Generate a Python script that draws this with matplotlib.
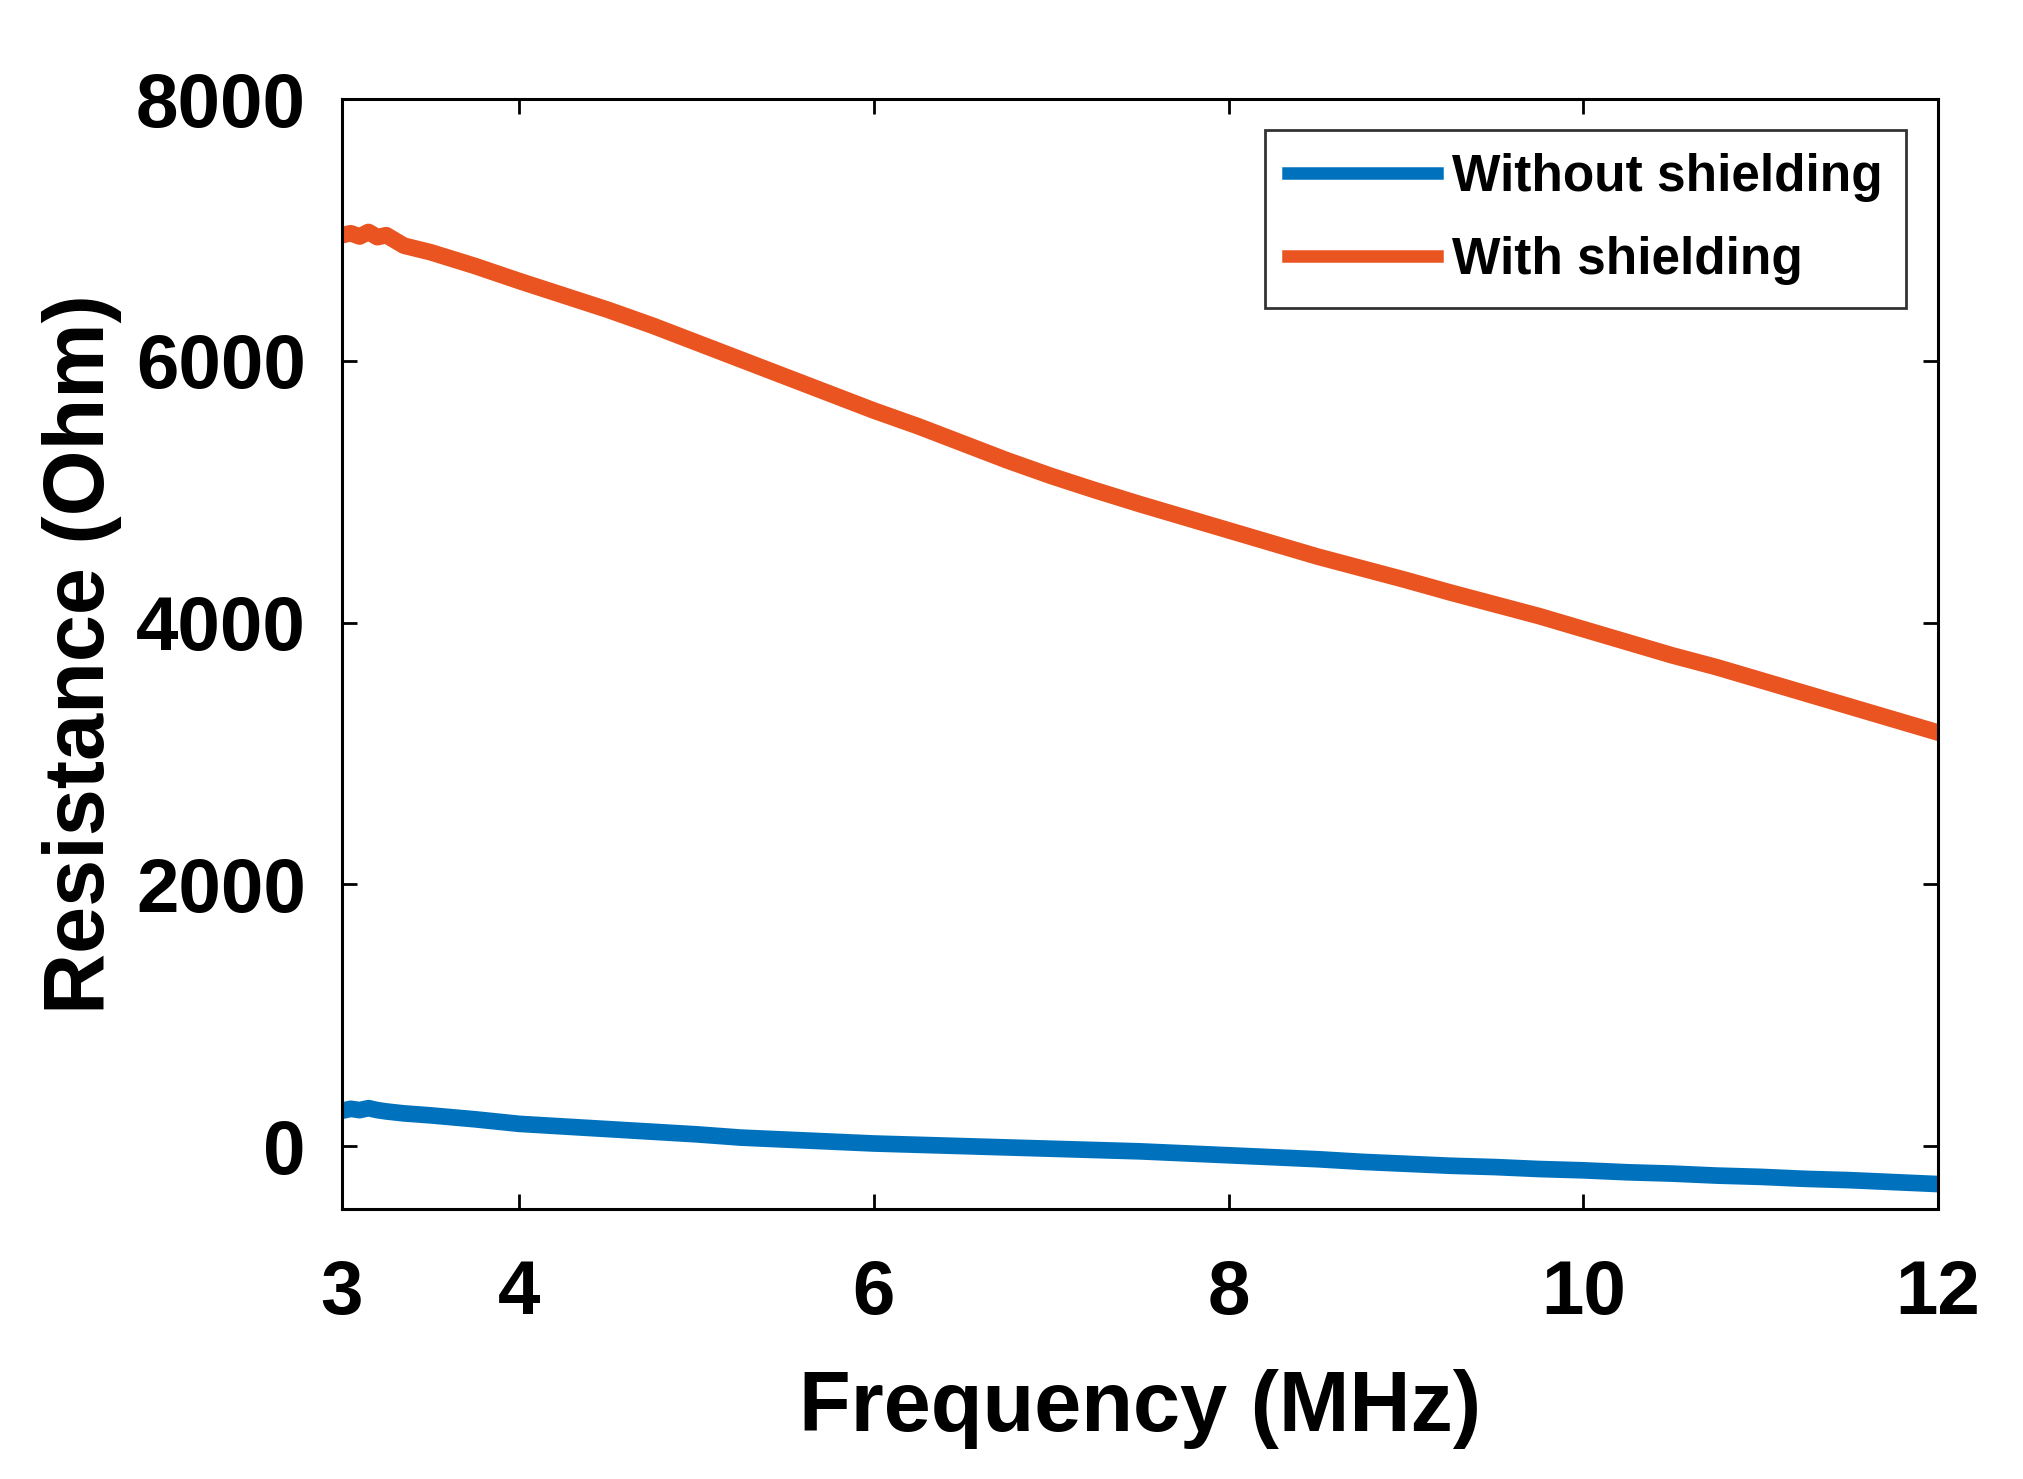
import matplotlib
matplotlib.use("Agg")
import matplotlib.pyplot as plt

# frequency points (MHz)
FREQ = [3.00, 3.05, 3.10, 3.15, 3.20, 3.25, 3.35, 3.50, 3.75, 4.00, 4.25, 4.50, 4.75,
        5.00, 5.25, 5.50, 5.75, 6.00, 6.25, 6.50, 6.75, 7.00, 7.25, 7.50, 7.75,
        8.00, 8.25, 8.50, 8.75, 9.00, 9.25, 9.50, 9.75, 10.00, 10.25, 10.50, 10.75,
        11.00, 11.25, 11.50, 11.75, 12.00]

WITH_SHIELD = [6960, 6975, 6950, 6985, 6945, 6960, 6880, 6830, 6725, 6610, 6500, 6390, 6270,
               6140, 6010, 5880, 5750, 5620, 5500, 5370, 5240, 5120, 5010, 4905, 4805,
               4705, 4605, 4505, 4415, 4325, 4230, 4140, 4050, 3950, 3850, 3750, 3660,
               3560, 3460, 3360, 3260, 3160]

WITHOUT_SHIELD = [270, 285, 275, 290, 275, 265, 250, 235, 205, 170, 150, 130, 110,
                  90, 65, 50, 35, 20, 10, 0, -10, -20, -30, -40, -55,
                  -70, -85, -100, -120, -135, -150, -160, -175, -185, -200, -210, -225,
                  -235, -250, -260, -275, -290]

LABELS = ["Without shielding", "With shielding"]
COLORS = ["#0072BD", "#EA5420"]

plt.rcParams["font.family"] = ["Liberation Sans", "DejaVu Sans"]
plt.rcParams["font.weight"] = "bold"

fig = plt.figure(figsize=(20.23, 14.79), dpi=100)
ax = fig.add_axes([0.169, 0.1826, 0.789, 0.7504])

ax.plot(FREQ, WITHOUT_SHIELD, color=COLORS[0], lw=12, label=LABELS[0])
ax.plot(FREQ, WITH_SHIELD, color=COLORS[1], lw=12, label=LABELS[1])

ax.set_xlim(3, 12)
ax.set_ylim(-480, 8000)
ax.set_xticks([3, 4, 6, 8, 10, 12])
ax.set_yticks([0, 2000, 4000, 6000, 8000])

for s in ax.spines.values():
    s.set_linewidth(2.2)
ax.tick_params(direction="in", length=11, width=2, top=True, right=True,
               labelsize=55)
ax.tick_params(axis="x", pad=36)
ax.tick_params(axis="y", pad=26)

ax.set_xlabel("Frequency (MHz)", fontsize=61, fontweight="bold", labelpad=28)
ax.set_ylabel("Resistance (Ohm)", fontsize=61, fontweight="bold", labelpad=10)

leg = ax.legend(loc="upper right", bbox_to_anchor=(0.98, 0.972), borderaxespad=0,
                fontsize=37, frameon=True, fancybox=False, edgecolor="black",
                handlelength=2.9, handletextpad=0.3, borderpad=0.45,
                labelspacing=0.65)
leg.get_frame().set_linewidth(2)
for line in leg.get_lines():
    line.set_linewidth(9)

fig.savefig("out.png", dpi=100)
